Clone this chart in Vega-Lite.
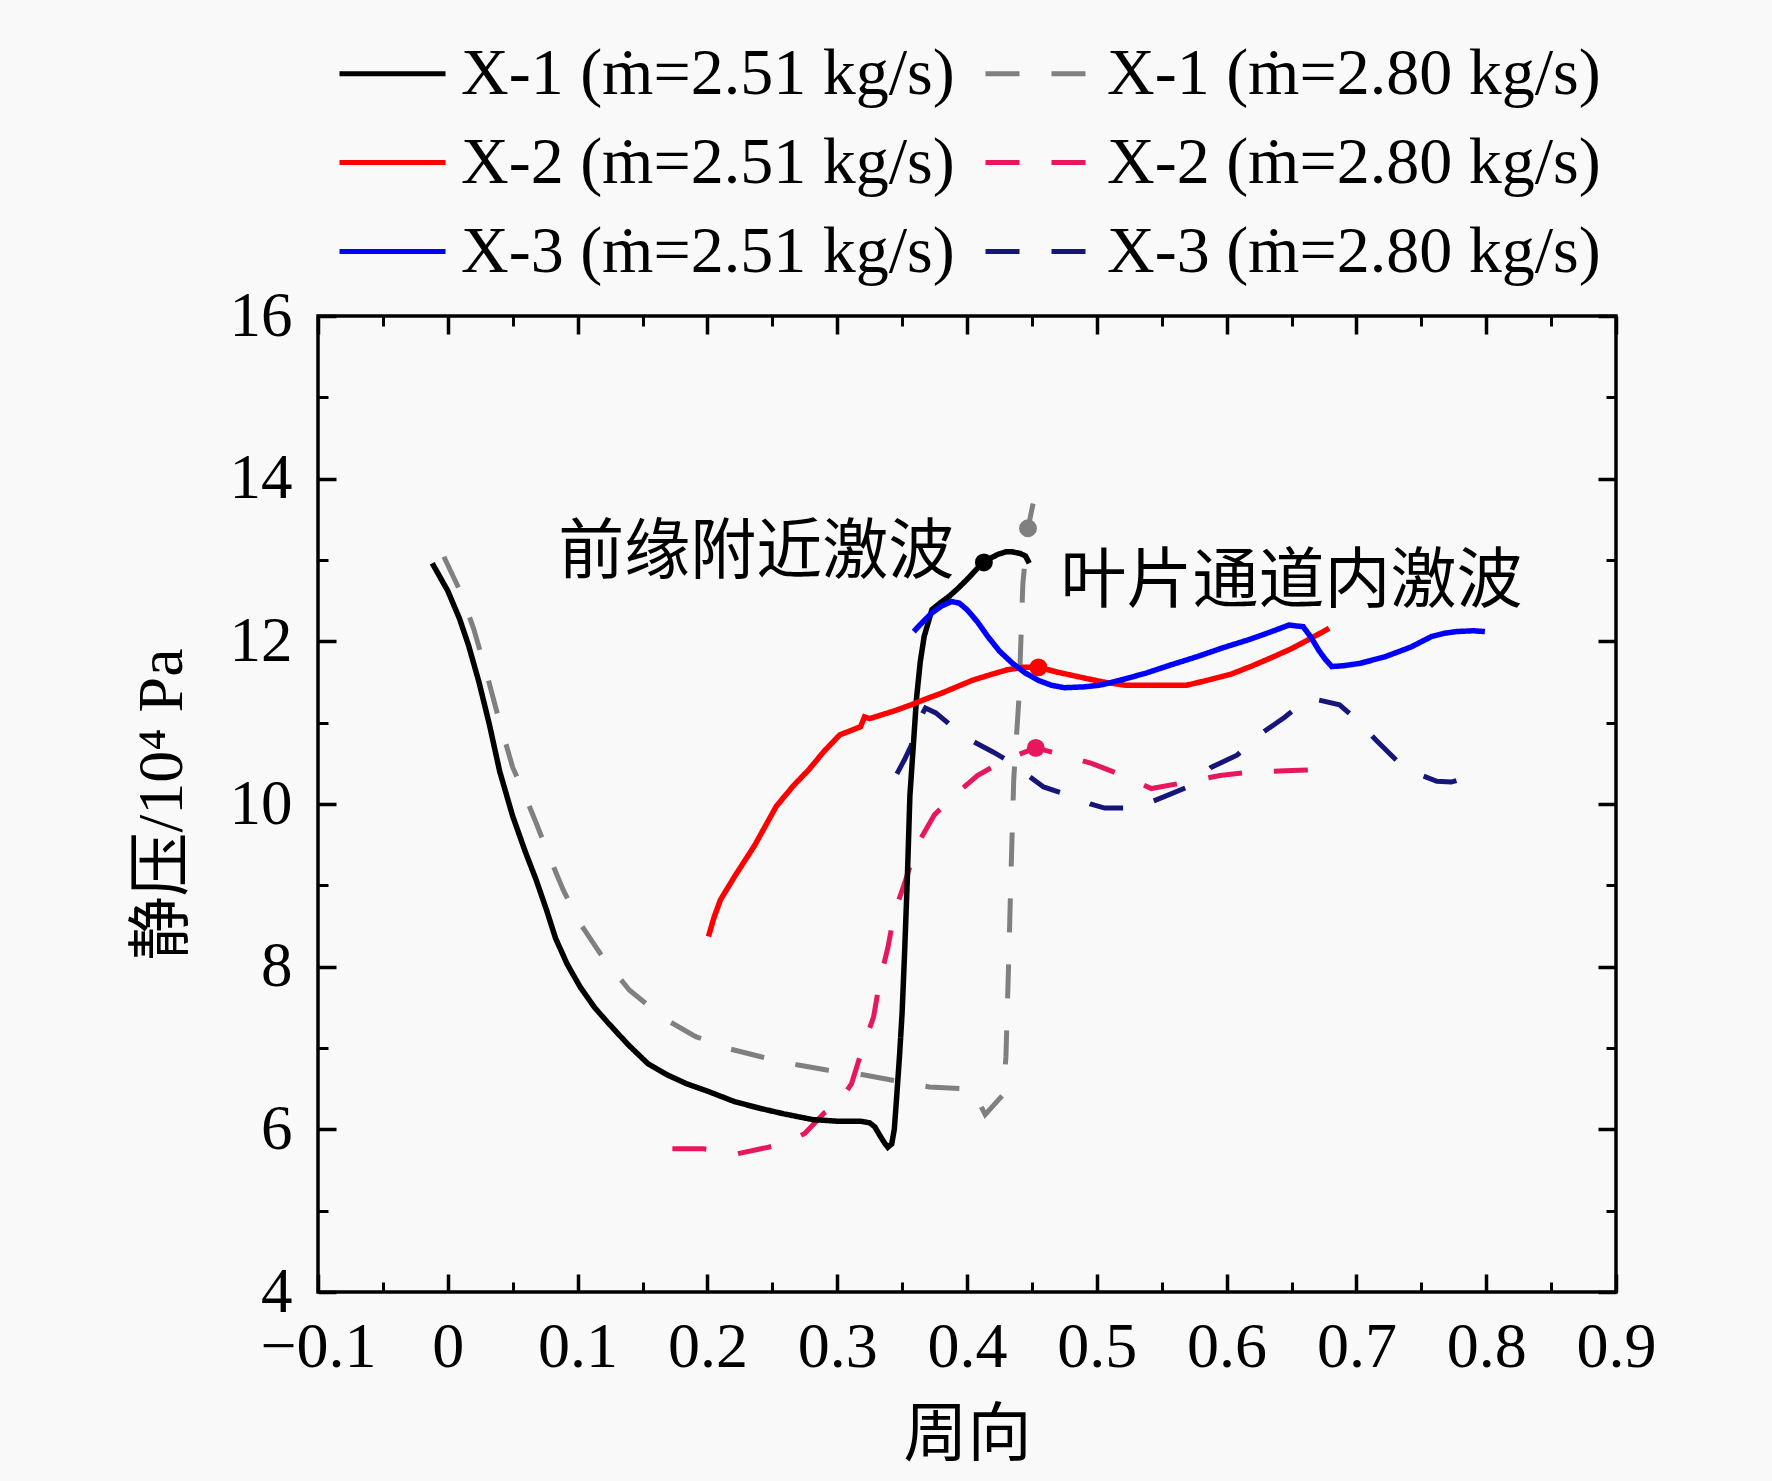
{
  "$schema": "https://vega.github.io/schema/vega-lite/v6.json",
  "width": 1298,
  "height": 976,
  "autosize": {"type": "none"},
  "padding": {"left": 318, "top": 316, "right": 156, "bottom": 189},
  "background": "#f9f9f9",
  "data": {
    "values": [
      {"s": "X-1 (ṁ=2.51 kg/s)", "x": -0.012, "y": 12.96},
      {"s": "X-1 (ṁ=2.51 kg/s)", "x": 0.0, "y": 12.62},
      {"s": "X-1 (ṁ=2.51 kg/s)", "x": 0.009, "y": 12.28},
      {"s": "X-1 (ṁ=2.51 kg/s)", "x": 0.016, "y": 11.95},
      {"s": "X-1 (ṁ=2.51 kg/s)", "x": 0.024, "y": 11.5},
      {"s": "X-1 (ṁ=2.51 kg/s)", "x": 0.032, "y": 10.98},
      {"s": "X-1 (ṁ=2.51 kg/s)", "x": 0.04, "y": 10.4},
      {"s": "X-1 (ṁ=2.51 kg/s)", "x": 0.05, "y": 9.85},
      {"s": "X-1 (ṁ=2.51 kg/s)", "x": 0.06, "y": 9.4},
      {"s": "X-1 (ṁ=2.51 kg/s)", "x": 0.068, "y": 9.07},
      {"s": "X-1 (ṁ=2.51 kg/s)", "x": 0.076, "y": 8.7},
      {"s": "X-1 (ṁ=2.51 kg/s)", "x": 0.083, "y": 8.35},
      {"s": "X-1 (ṁ=2.51 kg/s)", "x": 0.092, "y": 8.03},
      {"s": "X-1 (ṁ=2.51 kg/s)", "x": 0.102, "y": 7.75},
      {"s": "X-1 (ṁ=2.51 kg/s)", "x": 0.113, "y": 7.5},
      {"s": "X-1 (ṁ=2.51 kg/s)", "x": 0.124, "y": 7.3},
      {"s": "X-1 (ṁ=2.51 kg/s)", "x": 0.139, "y": 7.04},
      {"s": "X-1 (ṁ=2.51 kg/s)", "x": 0.154, "y": 6.81},
      {"s": "X-1 (ṁ=2.51 kg/s)", "x": 0.169, "y": 6.67},
      {"s": "X-1 (ṁ=2.51 kg/s)", "x": 0.184, "y": 6.56},
      {"s": "X-1 (ṁ=2.51 kg/s)", "x": 0.2, "y": 6.47},
      {"s": "X-1 (ṁ=2.51 kg/s)", "x": 0.221, "y": 6.34},
      {"s": "X-1 (ṁ=2.51 kg/s)", "x": 0.24, "y": 6.26},
      {"s": "X-1 (ṁ=2.51 kg/s)", "x": 0.259, "y": 6.19},
      {"s": "X-1 (ṁ=2.51 kg/s)", "x": 0.281, "y": 6.12},
      {"s": "X-1 (ṁ=2.51 kg/s)", "x": 0.3, "y": 6.1},
      {"s": "X-1 (ṁ=2.51 kg/s)", "x": 0.318, "y": 6.1},
      {"s": "X-1 (ṁ=2.51 kg/s)", "x": 0.325, "y": 6.08},
      {"s": "X-1 (ṁ=2.51 kg/s)", "x": 0.329, "y": 6.03},
      {"s": "X-1 (ṁ=2.51 kg/s)", "x": 0.333, "y": 5.92},
      {"s": "X-1 (ṁ=2.51 kg/s)", "x": 0.337, "y": 5.82},
      {"s": "X-1 (ṁ=2.51 kg/s)", "x": 0.339, "y": 5.78},
      {"s": "X-1 (ṁ=2.51 kg/s)", "x": 0.342, "y": 5.82},
      {"s": "X-1 (ṁ=2.51 kg/s)", "x": 0.344, "y": 6.0},
      {"s": "X-1 (ṁ=2.51 kg/s)", "x": 0.346, "y": 6.44},
      {"s": "X-1 (ṁ=2.51 kg/s)", "x": 0.348, "y": 6.9},
      {"s": "X-1 (ṁ=2.51 kg/s)", "x": 0.35, "y": 7.43},
      {"s": "X-1 (ṁ=2.51 kg/s)", "x": 0.352, "y": 8.2},
      {"s": "X-1 (ṁ=2.51 kg/s)", "x": 0.354, "y": 9.07},
      {"s": "X-1 (ṁ=2.51 kg/s)", "x": 0.356, "y": 10.1},
      {"s": "X-1 (ṁ=2.51 kg/s)", "x": 0.359, "y": 10.8},
      {"s": "X-1 (ṁ=2.51 kg/s)", "x": 0.361, "y": 11.28},
      {"s": "X-1 (ṁ=2.51 kg/s)", "x": 0.364, "y": 11.75},
      {"s": "X-1 (ṁ=2.51 kg/s)", "x": 0.367, "y": 12.06},
      {"s": "X-1 (ṁ=2.51 kg/s)", "x": 0.373, "y": 12.39},
      {"s": "X-1 (ṁ=2.51 kg/s)", "x": 0.38, "y": 12.48},
      {"s": "X-1 (ṁ=2.51 kg/s)", "x": 0.386, "y": 12.55},
      {"s": "X-1 (ṁ=2.51 kg/s)", "x": 0.393, "y": 12.65},
      {"s": "X-1 (ṁ=2.51 kg/s)", "x": 0.4, "y": 12.76},
      {"s": "X-1 (ṁ=2.51 kg/s)", "x": 0.407, "y": 12.88},
      {"s": "X-1 (ṁ=2.51 kg/s)", "x": 0.413, "y": 12.97},
      {"s": "X-1 (ṁ=2.51 kg/s)", "x": 0.419, "y": 13.03},
      {"s": "X-1 (ṁ=2.51 kg/s)", "x": 0.424, "y": 13.07},
      {"s": "X-1 (ṁ=2.51 kg/s)", "x": 0.43, "y": 13.1},
      {"s": "X-1 (ṁ=2.51 kg/s)", "x": 0.435, "y": 13.1},
      {"s": "X-1 (ṁ=2.51 kg/s)", "x": 0.441, "y": 13.08},
      {"s": "X-1 (ṁ=2.51 kg/s)", "x": 0.445, "y": 13.05},
      {"s": "X-1 (ṁ=2.51 kg/s)", "x": 0.448, "y": 12.96},

      {"s": "X-1 (ṁ=2.80 kg/s)", "x": -0.003, "y": 13.04},
      {"s": "X-1 (ṁ=2.80 kg/s)", "x": 0.01, "y": 12.6},
      {"s": "X-1 (ṁ=2.80 kg/s)", "x": 0.02, "y": 12.15},
      {"s": "X-1 (ṁ=2.80 kg/s)", "x": 0.03, "y": 11.6},
      {"s": "X-1 (ṁ=2.80 kg/s)", "x": 0.04, "y": 11.0},
      {"s": "X-1 (ṁ=2.80 kg/s)", "x": 0.05, "y": 10.45},
      {"s": "X-1 (ṁ=2.80 kg/s)", "x": 0.057, "y": 10.2},
      {"s": "X-1 (ṁ=2.80 kg/s)", "x": 0.068, "y": 9.77},
      {"s": "X-1 (ṁ=2.80 kg/s)", "x": 0.078, "y": 9.36},
      {"s": "X-1 (ṁ=2.80 kg/s)", "x": 0.089, "y": 8.94},
      {"s": "X-1 (ṁ=2.80 kg/s)", "x": 0.102, "y": 8.53},
      {"s": "X-1 (ṁ=2.80 kg/s)", "x": 0.12, "y": 8.1},
      {"s": "X-1 (ṁ=2.80 kg/s)", "x": 0.14, "y": 7.71},
      {"s": "X-1 (ṁ=2.80 kg/s)", "x": 0.167, "y": 7.36},
      {"s": "X-1 (ṁ=2.80 kg/s)", "x": 0.191, "y": 7.14},
      {"s": "X-1 (ṁ=2.80 kg/s)", "x": 0.217, "y": 6.99},
      {"s": "X-1 (ṁ=2.80 kg/s)", "x": 0.242, "y": 6.89},
      {"s": "X-1 (ṁ=2.80 kg/s)", "x": 0.27, "y": 6.79},
      {"s": "X-1 (ṁ=2.80 kg/s)", "x": 0.292, "y": 6.73},
      {"s": "X-1 (ṁ=2.80 kg/s)", "x": 0.32, "y": 6.67},
      {"s": "X-1 (ṁ=2.80 kg/s)", "x": 0.344, "y": 6.6},
      {"s": "X-1 (ṁ=2.80 kg/s)", "x": 0.371, "y": 6.52},
      {"s": "X-1 (ṁ=2.80 kg/s)", "x": 0.395, "y": 6.5},
      {"s": "X-1 (ṁ=2.80 kg/s)", "x": 0.405, "y": 6.47},
      {"s": "X-1 (ṁ=2.80 kg/s)", "x": 0.414, "y": 6.18},
      {"s": "X-1 (ṁ=2.80 kg/s)", "x": 0.428, "y": 6.43},
      {"s": "X-1 (ṁ=2.80 kg/s)", "x": 0.43, "y": 6.9},
      {"s": "X-1 (ṁ=2.80 kg/s)", "x": 0.432, "y": 8.0},
      {"s": "X-1 (ṁ=2.80 kg/s)", "x": 0.434, "y": 9.2},
      {"s": "X-1 (ṁ=2.80 kg/s)", "x": 0.436, "y": 10.3},
      {"s": "X-1 (ṁ=2.80 kg/s)", "x": 0.44, "y": 11.3},
      {"s": "X-1 (ṁ=2.80 kg/s)", "x": 0.443, "y": 12.7},
      {"s": "X-1 (ṁ=2.80 kg/s)", "x": 0.447, "y": 13.39},
      {"s": "X-1 (ṁ=2.80 kg/s)", "x": 0.451, "y": 13.7},

      {"s": "X-2 (ṁ=2.51 kg/s)", "x": 0.2008, "y": 8.37},
      {"s": "X-2 (ṁ=2.51 kg/s)", "x": 0.205, "y": 8.6},
      {"s": "X-2 (ṁ=2.51 kg/s)", "x": 0.21, "y": 8.82},
      {"s": "X-2 (ṁ=2.51 kg/s)", "x": 0.221, "y": 9.11},
      {"s": "X-2 (ṁ=2.51 kg/s)", "x": 0.236, "y": 9.48},
      {"s": "X-2 (ṁ=2.51 kg/s)", "x": 0.253, "y": 9.97},
      {"s": "X-2 (ṁ=2.51 kg/s)", "x": 0.266, "y": 10.22},
      {"s": "X-2 (ṁ=2.51 kg/s)", "x": 0.278, "y": 10.42},
      {"s": "X-2 (ṁ=2.51 kg/s)", "x": 0.29, "y": 10.65},
      {"s": "X-2 (ṁ=2.51 kg/s)", "x": 0.302, "y": 10.85},
      {"s": "X-2 (ṁ=2.51 kg/s)", "x": 0.318, "y": 10.95},
      {"s": "X-2 (ṁ=2.51 kg/s)", "x": 0.321, "y": 11.07},
      {"s": "X-2 (ṁ=2.51 kg/s)", "x": 0.325, "y": 11.05},
      {"s": "X-2 (ṁ=2.51 kg/s)", "x": 0.333, "y": 11.09},
      {"s": "X-2 (ṁ=2.51 kg/s)", "x": 0.345, "y": 11.15},
      {"s": "X-2 (ṁ=2.51 kg/s)", "x": 0.357, "y": 11.22},
      {"s": "X-2 (ṁ=2.51 kg/s)", "x": 0.368, "y": 11.29},
      {"s": "X-2 (ṁ=2.51 kg/s)", "x": 0.38, "y": 11.36},
      {"s": "X-2 (ṁ=2.51 kg/s)", "x": 0.392, "y": 11.44},
      {"s": "X-2 (ṁ=2.51 kg/s)", "x": 0.404, "y": 11.52},
      {"s": "X-2 (ṁ=2.51 kg/s)", "x": 0.418, "y": 11.59},
      {"s": "X-2 (ṁ=2.51 kg/s)", "x": 0.431, "y": 11.65},
      {"s": "X-2 (ṁ=2.51 kg/s)", "x": 0.443, "y": 11.68},
      {"s": "X-2 (ṁ=2.51 kg/s)", "x": 0.455, "y": 11.68},
      {"s": "X-2 (ṁ=2.51 kg/s)", "x": 0.47, "y": 11.62},
      {"s": "X-2 (ṁ=2.51 kg/s)", "x": 0.49, "y": 11.55},
      {"s": "X-2 (ṁ=2.51 kg/s)", "x": 0.505, "y": 11.5},
      {"s": "X-2 (ṁ=2.51 kg/s)", "x": 0.522, "y": 11.46},
      {"s": "X-2 (ṁ=2.51 kg/s)", "x": 0.545, "y": 11.46},
      {"s": "X-2 (ṁ=2.51 kg/s)", "x": 0.569, "y": 11.46},
      {"s": "X-2 (ṁ=2.51 kg/s)", "x": 0.585, "y": 11.52},
      {"s": "X-2 (ṁ=2.51 kg/s)", "x": 0.604, "y": 11.6},
      {"s": "X-2 (ṁ=2.51 kg/s)", "x": 0.62, "y": 11.7},
      {"s": "X-2 (ṁ=2.51 kg/s)", "x": 0.636, "y": 11.81},
      {"s": "X-2 (ṁ=2.51 kg/s)", "x": 0.65, "y": 11.91},
      {"s": "X-2 (ṁ=2.51 kg/s)", "x": 0.663, "y": 12.02},
      {"s": "X-2 (ṁ=2.51 kg/s)", "x": 0.679, "y": 12.16},

      {"s": "X-2 (ṁ=2.80 kg/s)", "x": 0.173, "y": 5.76},
      {"s": "X-2 (ṁ=2.80 kg/s)", "x": 0.197, "y": 5.76},
      {"s": "X-2 (ṁ=2.80 kg/s)", "x": 0.223, "y": 5.7},
      {"s": "X-2 (ṁ=2.80 kg/s)", "x": 0.247, "y": 5.78},
      {"s": "X-2 (ṁ=2.80 kg/s)", "x": 0.262, "y": 5.84},
      {"s": "X-2 (ṁ=2.80 kg/s)", "x": 0.275, "y": 5.95},
      {"s": "X-2 (ṁ=2.80 kg/s)", "x": 0.29, "y": 6.2},
      {"s": "X-2 (ṁ=2.80 kg/s)", "x": 0.3, "y": 6.3},
      {"s": "X-2 (ṁ=2.80 kg/s)", "x": 0.311, "y": 6.56},
      {"s": "X-2 (ṁ=2.80 kg/s)", "x": 0.32, "y": 7.02},
      {"s": "X-2 (ṁ=2.80 kg/s)", "x": 0.328, "y": 7.38},
      {"s": "X-2 (ṁ=2.80 kg/s)", "x": 0.333, "y": 7.84},
      {"s": "X-2 (ṁ=2.80 kg/s)", "x": 0.339, "y": 8.23},
      {"s": "X-2 (ṁ=2.80 kg/s)", "x": 0.344, "y": 8.66},
      {"s": "X-2 (ṁ=2.80 kg/s)", "x": 0.352, "y": 9.03},
      {"s": "X-2 (ṁ=2.80 kg/s)", "x": 0.361, "y": 9.48},
      {"s": "X-2 (ṁ=2.80 kg/s)", "x": 0.375, "y": 9.87},
      {"s": "X-2 (ṁ=2.80 kg/s)", "x": 0.387, "y": 10.05},
      {"s": "X-2 (ṁ=2.80 kg/s)", "x": 0.397, "y": 10.2},
      {"s": "X-2 (ṁ=2.80 kg/s)", "x": 0.408, "y": 10.35},
      {"s": "X-2 (ṁ=2.80 kg/s)", "x": 0.418, "y": 10.44},
      {"s": "X-2 (ṁ=2.80 kg/s)", "x": 0.435, "y": 10.58},
      {"s": "X-2 (ṁ=2.80 kg/s)", "x": 0.453, "y": 10.69},
      {"s": "X-2 (ṁ=2.80 kg/s)", "x": 0.47, "y": 10.62},
      {"s": "X-2 (ṁ=2.80 kg/s)", "x": 0.496, "y": 10.5},
      {"s": "X-2 (ṁ=2.80 kg/s)", "x": 0.52, "y": 10.35},
      {"s": "X-2 (ṁ=2.80 kg/s)", "x": 0.542, "y": 10.19},
      {"s": "X-2 (ṁ=2.80 kg/s)", "x": 0.566, "y": 10.26},
      {"s": "X-2 (ṁ=2.80 kg/s)", "x": 0.595, "y": 10.35},
      {"s": "X-2 (ṁ=2.80 kg/s)", "x": 0.617, "y": 10.39},
      {"s": "X-2 (ṁ=2.80 kg/s)", "x": 0.645, "y": 10.41},
      {"s": "X-2 (ṁ=2.80 kg/s)", "x": 0.669, "y": 10.42},

      {"s": "X-3 (ṁ=2.51 kg/s)", "x": 0.359, "y": 12.12},
      {"s": "X-3 (ṁ=2.51 kg/s)", "x": 0.366, "y": 12.24},
      {"s": "X-3 (ṁ=2.51 kg/s)", "x": 0.373, "y": 12.35},
      {"s": "X-3 (ṁ=2.51 kg/s)", "x": 0.38, "y": 12.43},
      {"s": "X-3 (ṁ=2.51 kg/s)", "x": 0.388, "y": 12.49},
      {"s": "X-3 (ṁ=2.51 kg/s)", "x": 0.394, "y": 12.47},
      {"s": "X-3 (ṁ=2.51 kg/s)", "x": 0.4, "y": 12.39},
      {"s": "X-3 (ṁ=2.51 kg/s)", "x": 0.408, "y": 12.24},
      {"s": "X-3 (ṁ=2.51 kg/s)", "x": 0.416, "y": 12.06},
      {"s": "X-3 (ṁ=2.51 kg/s)", "x": 0.425, "y": 11.88},
      {"s": "X-3 (ṁ=2.51 kg/s)", "x": 0.435, "y": 11.73},
      {"s": "X-3 (ṁ=2.51 kg/s)", "x": 0.445, "y": 11.61},
      {"s": "X-3 (ṁ=2.51 kg/s)", "x": 0.455, "y": 11.52},
      {"s": "X-3 (ṁ=2.51 kg/s)", "x": 0.465, "y": 11.46},
      {"s": "X-3 (ṁ=2.51 kg/s)", "x": 0.475, "y": 11.43},
      {"s": "X-3 (ṁ=2.51 kg/s)", "x": 0.49, "y": 11.44},
      {"s": "X-3 (ṁ=2.51 kg/s)", "x": 0.502, "y": 11.46},
      {"s": "X-3 (ṁ=2.51 kg/s)", "x": 0.52, "y": 11.53},
      {"s": "X-3 (ṁ=2.51 kg/s)", "x": 0.538, "y": 11.61},
      {"s": "X-3 (ṁ=2.51 kg/s)", "x": 0.557, "y": 11.71},
      {"s": "X-3 (ṁ=2.51 kg/s)", "x": 0.577, "y": 11.81},
      {"s": "X-3 (ṁ=2.51 kg/s)", "x": 0.597, "y": 11.92},
      {"s": "X-3 (ṁ=2.51 kg/s)", "x": 0.617, "y": 12.02},
      {"s": "X-3 (ṁ=2.51 kg/s)", "x": 0.633, "y": 12.11},
      {"s": "X-3 (ṁ=2.51 kg/s)", "x": 0.648, "y": 12.2},
      {"s": "X-3 (ṁ=2.51 kg/s)", "x": 0.659, "y": 12.18},
      {"s": "X-3 (ṁ=2.51 kg/s)", "x": 0.665, "y": 12.05},
      {"s": "X-3 (ṁ=2.51 kg/s)", "x": 0.671, "y": 11.89},
      {"s": "X-3 (ṁ=2.51 kg/s)", "x": 0.676, "y": 11.78},
      {"s": "X-3 (ṁ=2.51 kg/s)", "x": 0.681, "y": 11.69},
      {"s": "X-3 (ṁ=2.51 kg/s)", "x": 0.69, "y": 11.7},
      {"s": "X-3 (ṁ=2.51 kg/s)", "x": 0.703, "y": 11.73},
      {"s": "X-3 (ṁ=2.51 kg/s)", "x": 0.722, "y": 11.81},
      {"s": "X-3 (ṁ=2.51 kg/s)", "x": 0.742, "y": 11.93},
      {"s": "X-3 (ṁ=2.51 kg/s)", "x": 0.758, "y": 12.06},
      {"s": "X-3 (ṁ=2.51 kg/s)", "x": 0.768, "y": 12.1},
      {"s": "X-3 (ṁ=2.51 kg/s)", "x": 0.777, "y": 12.12},
      {"s": "X-3 (ṁ=2.51 kg/s)", "x": 0.79, "y": 12.13},
      {"s": "X-3 (ṁ=2.51 kg/s)", "x": 0.799, "y": 12.12},

      {"s": "X-3 (ṁ=2.80 kg/s)", "x": 0.346, "y": 10.37},
      {"s": "X-3 (ṁ=2.80 kg/s)", "x": 0.352, "y": 10.55},
      {"s": "X-3 (ṁ=2.80 kg/s)", "x": 0.357, "y": 10.72},
      {"s": "X-3 (ṁ=2.80 kg/s)", "x": 0.362, "y": 11.0},
      {"s": "X-3 (ṁ=2.80 kg/s)", "x": 0.368, "y": 11.18},
      {"s": "X-3 (ṁ=2.80 kg/s)", "x": 0.376, "y": 11.12},
      {"s": "X-3 (ṁ=2.80 kg/s)", "x": 0.385, "y": 11.0},
      {"s": "X-3 (ṁ=2.80 kg/s)", "x": 0.394, "y": 10.87},
      {"s": "X-3 (ṁ=2.80 kg/s)", "x": 0.407, "y": 10.75},
      {"s": "X-3 (ṁ=2.80 kg/s)", "x": 0.42, "y": 10.64},
      {"s": "X-3 (ṁ=2.80 kg/s)", "x": 0.437, "y": 10.48},
      {"s": "X-3 (ṁ=2.80 kg/s)", "x": 0.448, "y": 10.34},
      {"s": "X-3 (ṁ=2.80 kg/s)", "x": 0.459, "y": 10.21},
      {"s": "X-3 (ṁ=2.80 kg/s)", "x": 0.482, "y": 10.09},
      {"s": "X-3 (ṁ=2.80 kg/s)", "x": 0.495, "y": 10.0},
      {"s": "X-3 (ṁ=2.80 kg/s)", "x": 0.506, "y": 9.95},
      {"s": "X-3 (ṁ=2.80 kg/s)", "x": 0.53, "y": 9.95},
      {"s": "X-3 (ṁ=2.80 kg/s)", "x": 0.541, "y": 10.02},
      {"s": "X-3 (ṁ=2.80 kg/s)", "x": 0.552, "y": 10.09},
      {"s": "X-3 (ṁ=2.80 kg/s)", "x": 0.573, "y": 10.23},
      {"s": "X-3 (ṁ=2.80 kg/s)", "x": 0.588, "y": 10.45},
      {"s": "X-3 (ṁ=2.80 kg/s)", "x": 0.608, "y": 10.6},
      {"s": "X-3 (ṁ=2.80 kg/s)", "x": 0.627, "y": 10.87},
      {"s": "X-3 (ṁ=2.80 kg/s)", "x": 0.645, "y": 11.07},
      {"s": "X-3 (ṁ=2.80 kg/s)", "x": 0.655, "y": 11.2},
      {"s": "X-3 (ṁ=2.80 kg/s)", "x": 0.665, "y": 11.3},
      {"s": "X-3 (ṁ=2.80 kg/s)", "x": 0.687, "y": 11.22},
      {"s": "X-3 (ṁ=2.80 kg/s)", "x": 0.702, "y": 11.01},
      {"s": "X-3 (ṁ=2.80 kg/s)", "x": 0.716, "y": 10.77},
      {"s": "X-3 (ṁ=2.80 kg/s)", "x": 0.732, "y": 10.52},
      {"s": "X-3 (ṁ=2.80 kg/s)", "x": 0.749, "y": 10.36},
      {"s": "X-3 (ṁ=2.80 kg/s)", "x": 0.762, "y": 10.28},
      {"s": "X-3 (ṁ=2.80 kg/s)", "x": 0.773, "y": 10.27},
      {"s": "X-3 (ṁ=2.80 kg/s)", "x": 0.784, "y": 10.32},
      {"s": "X-3 (ṁ=2.80 kg/s)", "x": 0.797, "y": 10.42}
    ]
  },
  "layer": [
    {
      "transform": [{"filter": {"field": "s", "oneOf": ["X-1 (ṁ=2.80 kg/s)", "X-2 (ṁ=2.80 kg/s)", "X-3 (ṁ=2.80 kg/s)"]}}],
      "mark": {"type": "line", "strokeWidth": 5, "strokeCap": "butt"},
      "encoding": {
        "x": {
          "field": "x", "type": "quantitative",
          "scale": {"domain": [-0.1, 0.9], "nice": false, "zero": false},
          "axis": {
            "orient": "bottom",
            "values": [-0.1, 0, 0.1, 0.2, 0.3, 0.4, 0.5, 0.6, 0.7, 0.8, 0.9],
            "format": "~g",
            "domain": false, "grid": false,
            "tickSize": -18, "tickWidth": 3.5, "tickColor": "black",
            "labelFont": "Liberation Serif", "labelFontSize": 64, "labelColor": "black",
            "labelPadding": 41, "labelFlush": false, "labelOverlap": false,
            "title": "周向", "titleFont": "Noto Sans CJK SC", "titleFontSize": 64,
            "titleFontWeight": "normal", "titleColor": "black",
            "titleY": 143, "titleBaseline": "middle"
          }
        },
        "y": {
          "field": "y", "type": "quantitative",
          "scale": {"domain": [4, 16], "nice": false, "zero": false},
          "axis": {
            "orient": "left",
            "values": [4, 6, 8, 10, 12, 14, 16],
            "format": "d",
            "domain": false, "grid": false,
            "tickSize": -18, "tickWidth": 3.5, "tickColor": "black",
            "labelFont": "Liberation Serif", "labelFontSize": 63, "labelColor": "black",
            "labelPadding": 44, "labelFlush": false, "labelOverlap": false,
            "title": "静压/10⁴ Pa", "titleFont": "Liberation Serif, Noto Sans CJK SC",
            "titleFontSize": 64, "titleFontWeight": "normal", "titleColor": "black",
            "titleX": -156, "titleY": 488, "titleAngle": -90,
            "titleAlign": "center", "titleBaseline": "middle"
          }
        },
        "color": {
          "field": "s", "type": "nominal",
          "scale": {
            "domain": ["X-1 (ṁ=2.51 kg/s)", "X-2 (ṁ=2.51 kg/s)", "X-3 (ṁ=2.51 kg/s)", "X-1 (ṁ=2.80 kg/s)", "X-2 (ṁ=2.80 kg/s)", "X-3 (ṁ=2.80 kg/s)"],
            "range": ["#000000", "#ff0000", "#0000ff", "#808080", "#e8175d", "#15157a"]
          },
          "legend": {
            "orient": "none", "legendX": 19, "legendY": -298,
            "columns": 2, "title": null, "padding": 0,
            "symbolType": "stroke", "symbolSize": 11236, "symbolStrokeWidth": 5,
            "labelFont": "Liberation Serif", "labelFontSize": 66, "labelColor": "black",
            "labelLimit": 0, "labelOffset": 13, "rowPadding": -3, "columnPadding": 20
          }
        },
        "strokeDash": {
          "field": "s", "type": "nominal",
          "scale": {
            "domain": ["X-1 (ṁ=2.51 kg/s)", "X-2 (ṁ=2.51 kg/s)", "X-3 (ṁ=2.51 kg/s)", "X-1 (ṁ=2.80 kg/s)", "X-2 (ṁ=2.80 kg/s)", "X-3 (ṁ=2.80 kg/s)"],
            "range": [[1, 0], [1, 0], [1, 0], [34, 32], [34, 32], [34, 32]]
          }
        }
      }
    },
    {
      "transform": [{"filter": {"field": "s", "oneOf": ["X-1 (ṁ=2.51 kg/s)", "X-2 (ṁ=2.51 kg/s)", "X-3 (ṁ=2.51 kg/s)"]}}],
      "mark": {"type": "line", "strokeWidth": 5.5, "strokeCap": "butt"},
      "encoding": {
        "x": {
          "field": "x", "type": "quantitative",
          "scale": {"domain": [-0.1, 0.9], "nice": false, "zero": false},
          "axis": {
            "orient": "bottom",
            "values": [-0.05, 0.05, 0.15, 0.25, 0.35, 0.45, 0.55, 0.65, 0.75, 0.85],
            "labels": false, "domain": false, "grid": false, "title": null,
            "tickSize": -10, "tickWidth": 3, "tickColor": "black"
          }
        },
        "y": {
          "field": "y", "type": "quantitative",
          "scale": {"domain": [4, 16], "nice": false, "zero": false},
          "axis": {
            "orient": "left",
            "values": [5, 7, 9, 11, 13, 15],
            "labels": false, "domain": false, "grid": false, "title": null,
            "tickSize": -10, "tickWidth": 3, "tickColor": "black"
          }
        },
        "color": {"field": "s", "type": "nominal"},
        "strokeDash": {"field": "s", "type": "nominal"}
      }
    },
    {
      "data": {
        "values": [
          {"s": "X-1 (ṁ=2.51 kg/s)", "x": 0.413, "y": 12.97},
          {"s": "X-1 (ṁ=2.80 kg/s)", "x": 0.447, "y": 13.39},
          {"s": "X-2 (ṁ=2.51 kg/s)", "x": 0.455, "y": 11.68},
          {"s": "X-2 (ṁ=2.80 kg/s)", "x": 0.453, "y": 10.69}
        ]
      },
      "mark": {"type": "point", "filled": true, "size": 320, "opacity": 1},
      "encoding": {
        "x": {
          "field": "x", "type": "quantitative",
          "scale": {"domain": [-0.1, 0.9], "nice": false, "zero": false},
          "axis": {
            "orient": "top",
            "values": [-0.1, 0, 0.1, 0.2, 0.3, 0.4, 0.5, 0.6, 0.7, 0.8, 0.9],
            "labels": false, "domain": false, "grid": false, "title": null,
            "tickSize": -18, "tickWidth": 3.5, "tickColor": "black"
          }
        },
        "y": {
          "field": "y", "type": "quantitative",
          "scale": {"domain": [4, 16], "nice": false, "zero": false},
          "axis": {
            "orient": "right",
            "values": [4, 6, 8, 10, 12, 14, 16],
            "labels": false, "domain": false, "grid": false, "title": null,
            "tickSize": -18, "tickWidth": 3.5, "tickColor": "black"
          }
        },
        "color": {"field": "s", "type": "nominal", "legend": null}
      }
    },
    {
      "data": {
        "values": [
          {"label": "前缘附近激波", "x": 0.085, "y": 13.08},
          {"label": "叶片通道内激波", "x": 0.472, "y": 12.73}
        ]
      },
      "mark": {"type": "text", "align": "left", "baseline": "middle", "font": "Noto Sans CJK SC", "fontSize": 66, "color": "black"},
      "encoding": {
        "x": {
          "field": "x", "type": "quantitative",
          "scale": {"domain": [-0.1, 0.9], "nice": false, "zero": false},
          "axis": {
            "orient": "top",
            "values": [-0.05, 0.05, 0.15, 0.25, 0.35, 0.45, 0.55, 0.65, 0.75, 0.85],
            "labels": false, "domain": false, "grid": false, "title": null,
            "tickSize": -10, "tickWidth": 3, "tickColor": "black"
          }
        },
        "y": {
          "field": "y", "type": "quantitative",
          "scale": {"domain": [4, 16], "nice": false, "zero": false},
          "axis": {
            "orient": "right",
            "values": [5, 7, 9, 11, 13, 15],
            "labels": false, "domain": false, "grid": false, "title": null,
            "tickSize": -10, "tickWidth": 3, "tickColor": "black"
          }
        },
        "text": {"field": "label"}
      }
    }
  ],
  "resolve": {"axis": {"x": "independent", "y": "independent"}},
  "config": {
    "view": {"stroke": "black", "strokeWidth": 3.5},
    "font": "Liberation Serif"
  }
}
